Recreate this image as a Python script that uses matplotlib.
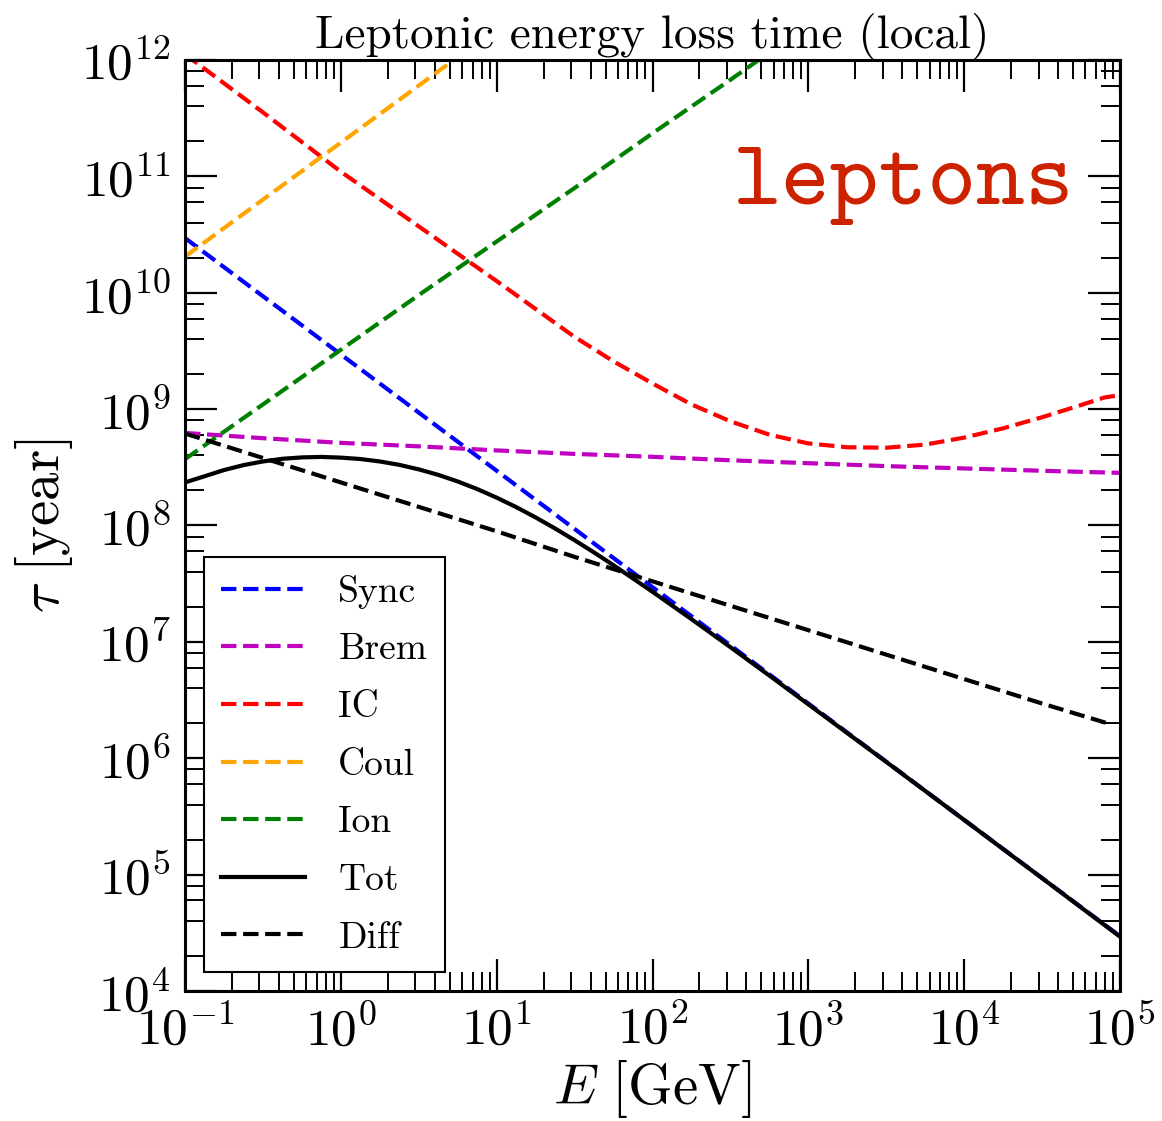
import numpy as np
import matplotlib
matplotlib.use("Agg")
import matplotlib.pyplot as plt
from matplotlib.ticker import LogLocator, NullFormatter

# ---- data (log10 of energy in GeV, log10 of time in years) ----
logE_grid = [-1.0, -0.5, 0.0, 0.5, 1.0, 1.5, 2.0, 2.5, 3.0, 3.5, 4.0, 4.5, 5.0]

sync_logt = [10.47, 9.97, 9.47, 8.97, 8.47, 7.97, 7.47, 6.97, 6.47, 5.97, 5.47, 4.97, 4.47]
brem_logt = [8.795, 8.75, 8.71, 8.68, 8.645, 8.615, 8.59, 8.56, 8.535, 8.51, 8.49, 8.47, 8.452]

ic_logE = [-1.0, -0.5, 0.0, 0.5, 1.0, 1.5, 1.75, 2.0, 2.25, 2.5, 2.75, 3.0, 3.25, 3.5,
           3.75, 4.0, 4.25, 4.5, 4.75, 4.9, 5.0]
ic_logt = [12.05, 11.55, 11.04, 10.57, 10.10, 9.62, 9.41, 9.22, 9.04, 8.895, 8.78, 8.705,
           8.672, 8.668, 8.695, 8.755, 8.835, 8.93, 9.035, 9.10, 9.12]

coul_logE = [-1.0, -0.5, 0.0, 0.5, 1.0]
coul_logt = [10.31, 10.80, 11.29, 11.78, 12.27]

ion_logE = [-1.0, -0.5, 0.0, 0.5, 1.0, 1.5, 2.0, 2.5, 3.0]
ion_logt = [8.57, 9.04, 9.51, 9.98, 10.44, 10.90, 11.37, 11.83, 12.30]

tot_logE = [-1.0, -0.875, -0.75, -0.625, -0.5, -0.375, -0.25, -0.125, 0.0, 0.125, 0.25,
            0.375, 0.5, 0.625, 0.75, 0.875, 1.0, 1.125, 1.25, 1.375, 1.5, 1.625, 1.75,
            2.0, 2.25, 2.5, 2.75, 3.0, 3.5, 4.0, 4.5, 5.0]
tot_logt = [8.37, 8.4225, 8.476, 8.5185, 8.55, 8.573, 8.585, 8.589, 8.583, 8.571, 8.55,
            8.521, 8.482, 8.435, 8.378, 8.313, 8.239, 8.158, 8.069, 7.974, 7.873, 7.768, 7.658,
            7.43, 7.195, 6.954, 6.71, 6.463, 5.968, 5.469, 4.969, 4.466]

diff_logE = [-1.0, -0.5, 0.0, 0.5, 1.0, 1.5, 2.0, 2.5, 3.0, 3.5, 4.0, 4.5, 4.92]
diff_logt = [8.79, 8.58, 8.37, 8.16, 7.95, 7.73, 7.52, 7.31, 7.10, 6.89, 6.68, 6.47, 6.30]

labels = ["Sync", "Brem", "IC", "Coul", "Ion", "Tot", "Diff"]
colors = ["b", "m", "r", "orange", "g", "k", "k"]
styles = ["--", "--", "--", "--", "--", "-", "--"]

series = [
    (logE_grid, sync_logt),
    (logE_grid, brem_logt),
    (ic_logE, ic_logt),
    (coul_logE, coul_logt),
    (ion_logE, ion_logt),
    (tot_logE, tot_logt),
    (diff_logE, diff_logt),
]

# ---- style ----
plt.rcParams["font.family"] = "serif"
plt.rcParams["font.serif"] = ["cmr10"]
plt.rcParams["mathtext.fontset"] = "cm"
plt.rcParams["axes.unicode_minus"] = False
plt.rcParams["axes.formatter.use_mathtext"] = True

fig = plt.figure(figsize=(11.62, 11.21), dpi=100)
ax = fig.add_axes([0.1592, 0.1160, 0.8047, 0.8305])

for (le, lt), lab, c, ls in zip(series, labels, colors, styles):
    ax.plot(10 ** np.array(le), 10 ** np.array(lt), ls, color=c, lw=3, label=lab)

ax.set_xscale("log")
ax.set_yscale("log")
ax.set_xlim(1e-1, 1e5)
ax.set_ylim(1e4, 1e12)

ax.xaxis.set_major_locator(LogLocator(base=10, numticks=20))
ax.xaxis.set_minor_locator(LogLocator(base=10, subs=(2, 3, 4, 5, 6, 7, 8, 9), numticks=50))
ax.yaxis.set_major_locator(LogLocator(base=10, numticks=20))
ax.yaxis.set_minor_locator(LogLocator(base=10, subs=(2, 4, 6, 8), numticks=50))
ax.xaxis.set_minor_formatter(NullFormatter())
ax.yaxis.set_minor_formatter(NullFormatter())

ax.tick_params(which="both", direction="in", top=True, right=True, labelsize=37)
ax.tick_params(which="major", length=23, width=1.6, pad=10)
ax.tick_params(which="minor", length=14, width=1.4)
for s in ax.spines.values():
    s.set_linewidth(2.2)

ax.set_xlabel(r"$E\ [\mathrm{GeV}]$", fontsize=41, labelpad=2)
ax.set_ylabel(r"$\tau\ [\mathrm{year}]$", fontsize=41, labelpad=4)
ax.set_title("Leptonic energy loss time (local)", fontsize=34, pad=2)

ax.text(0.951, 0.8453, "leptons", transform=ax.transAxes, ha="right", va="baseline",
        fontsize=67, family="cmtt10", color="#CC2200")

leg = ax.legend(loc="lower left", fontsize=27, frameon=True, fancybox=False,
                edgecolor="k", framealpha=1, handlelength=2.24, handletextpad=0.88,
                labelspacing=0.65, borderpad=0.47, borderaxespad=0.5)
leg.get_frame().set_linewidth(1.5)

fig.savefig("out.png", dpi=100)
